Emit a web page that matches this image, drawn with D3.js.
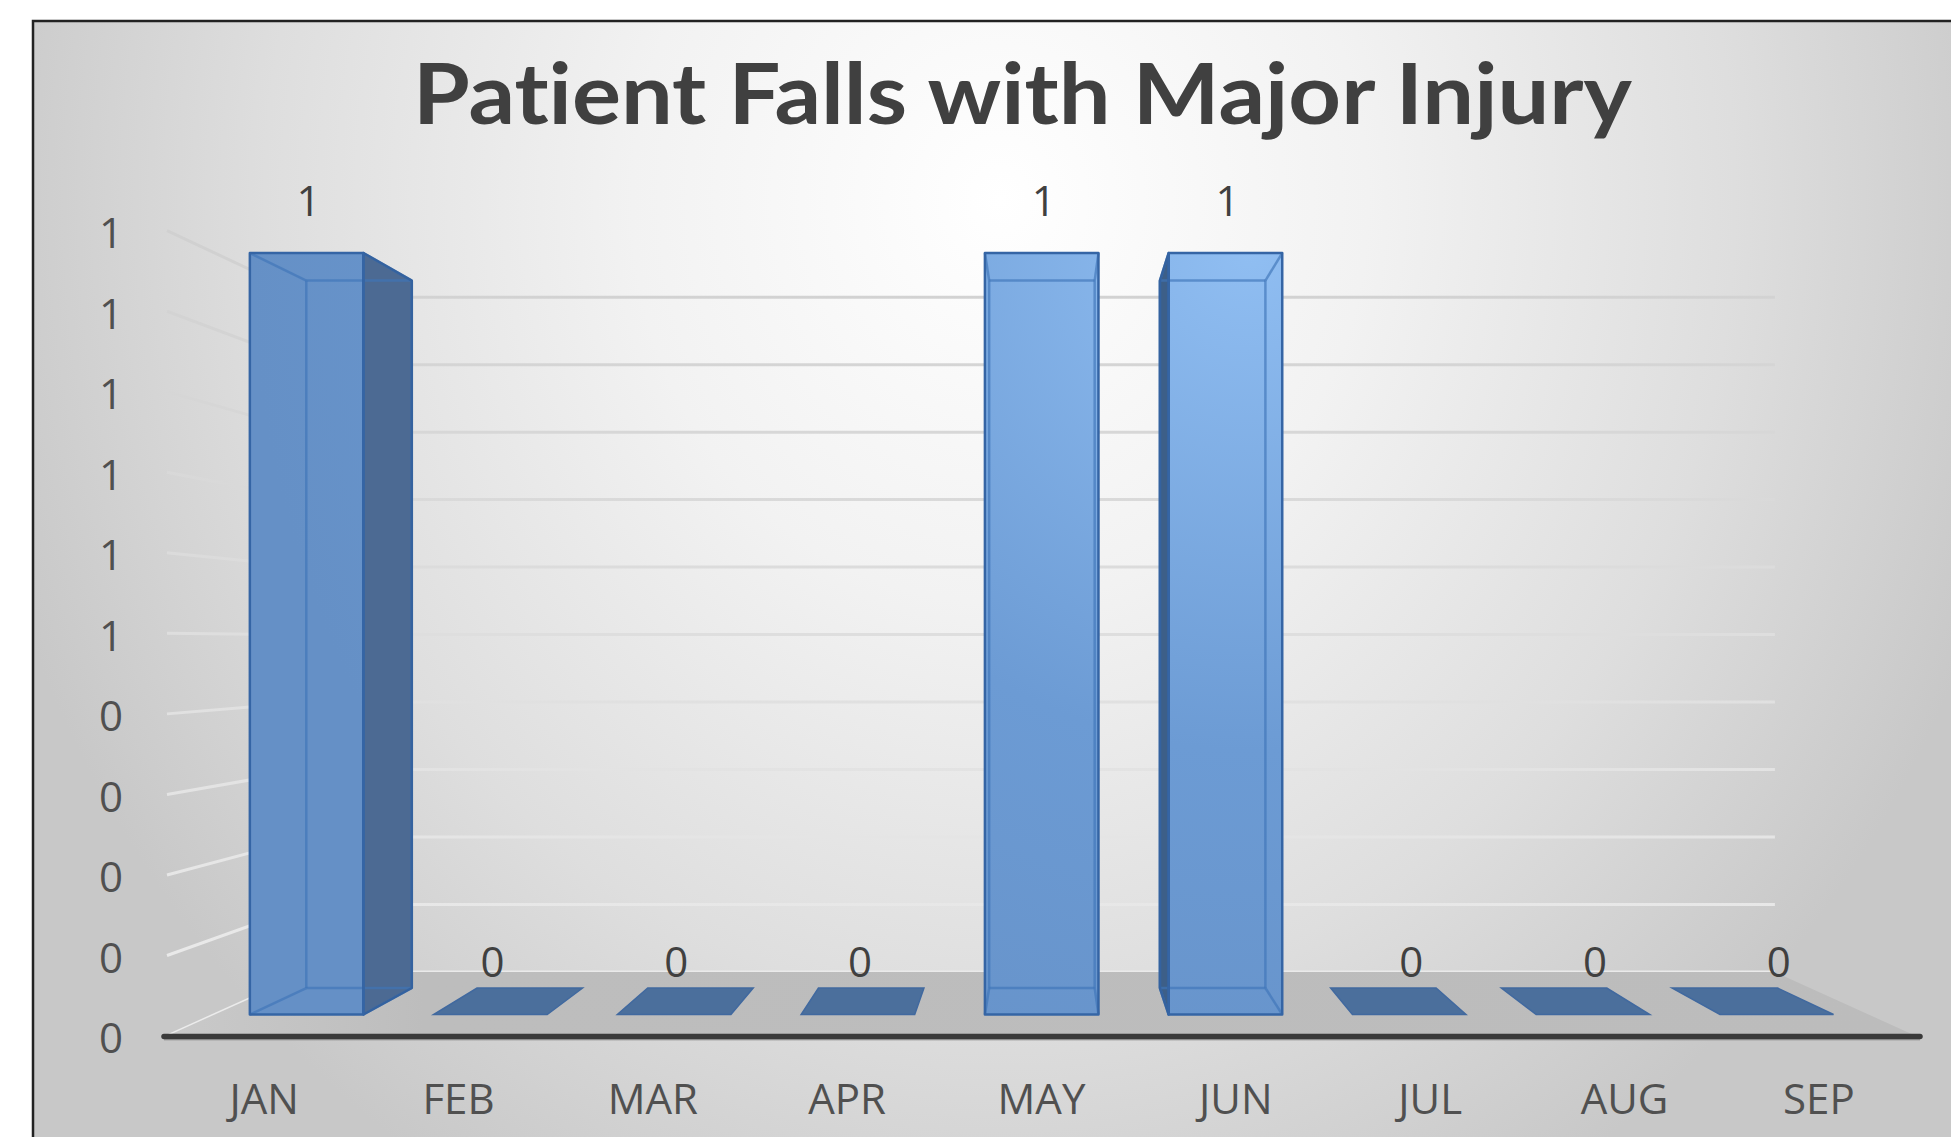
<!DOCTYPE html>
<html><head><meta charset="utf-8">
<script src="https://cdn.jsdelivr.net/npm/d3@7"></script>
<style>html,body{margin:0;padding:0;background:#fff;overflow:hidden} text{font-variant-ligatures:none;font-feature-settings:"liga" 0,"clig" 0;}</style>
</head><body><svg id="chart" width="1951" height="1137"></svg>
<script>
const chartTitle = "Patient Falls with Major Injury";
const months = ["JAN","FEB","MAR","APR","MAY","JUN","JUL","AUG","SEP"];
const falls = [1,0,0,0,1,1,0,0,0];
const dataLabels = ["1","0","0","0","1","1","0","0","0"];
const yTickValues = [0,0.1,0.2,0.3,0.4,0.5,0.6,0.7,0.8,0.9,1];
const yTickLabels = ["0","0","0","0","0","1","1","1","1","1","1"];

const W = 1951, H = 1137;
const svg = d3.select("#chart");
const defs = svg.append("defs");

function addStops(g, stops){ stops.forEach(s => g.append("stop").attr("offset", s[0]).attr("stop-color", s[1])); }

const bg = defs.append("radialGradient").attr("id","bg").attr("gradientUnits","userSpaceOnUse")
  .attr("cx",1000).attr("cy",200).attr("r",1050)
  .attr("gradientTransform","translate(1000,200) scale(1,1.095) translate(-1000,-200)");
addStops(bg, [[0,"#ffffff"],[0.35,"#f2f2f2"],[0.7,"#dedede"],[1,"#c8c8c8"]]);

const gridGrad = defs.append("linearGradient").attr("id","gridGrad").attr("gradientUnits","userSpaceOnUse")
  .attr("x1",0).attr("y1",230).attr("x2",0).attr("y2",1036);
addStops(gridGrad, [[0,"#d0d0d0"],[1,"#ececec"]]);

const floorGrad = defs.append("linearGradient").attr("id","floorGrad").attr("gradientUnits","userSpaceOnUse")
  .attr("x1",160).attr("y1",0).attr("x2",1920).attr("y2",0);
addStops(floorGrad, [[0,"#cacaca"],[0.15,"#bdbdbd"],[1,"#bcbcbc"]]);

const barGrad = defs.append("radialGradient").attr("id","barGrad").attr("gradientUnits","userSpaceOnUse")
  .attr("cx",1250).attr("cy",250).attr("r",1000);
addStops(barGrad, [[0,"#90bef2"],[0.5,"#6c9bd4"],[1,"#6590c6"]]);

// frame
svg.append("rect").attr("x",33).attr("y",21).attr("width",W).attr("height",H)
  .attr("fill","url(#bg)").attr("stroke","#222").attr("stroke-width",2.5);

// scales (front plane)
const x = d3.scaleBand().domain(months).range([167,1916]);
const xBar = d3.scaleBand().domain(months).range([167,1916]).paddingInner(0.382).paddingOuter(0.191);
const y = d3.scaleLinear().domain([0,1]).range([1036,230.7]);

// perspective projection
const VP = [1045,641], DEPTH = 0.1933, zFront = 0.2975, zBack = 0.7155;
function P(px, py, z){ const s = 1/(1+z*DEPTH); return [VP[0]+(px-VP[0])*s, VP[1]+(py-VP[1])*s]; }
const line = d3.line();
const x0 = x.range()[0], x1 = x.range()[1];

// gridlines: back wall and side wall
const grid = svg.append("g");
yTickValues.forEach(v => {
  grid.append("path").attr("d", line([P(x0,y(v),1), P(x1,y(v),1)]))
    .attr("stroke","url(#gridGrad)").attr("stroke-width",3).attr("fill","none");
  grid.append("path").attr("d", line([P(x0,y(v),0), P(x0,y(v),1)]))
    .attr("stroke","url(#gridGrad)").attr("stroke-width",3).attr("fill","none");
});

// floor
svg.append("path").attr("d", line([P(x0,y(0),0),P(x1,y(0),0),P(x1,y(0),1),P(x0,y(0),1)])+"Z")
  .attr("fill","url(#floorGrad)");
svg.append("line").attr("x1",x0-3).attr("x2",x1+4).attr("y1",y(0)+3).attr("y2",y(0)+3)
  .attr("stroke","#8a8a8a").attr("stroke-width",3).attr("opacity",0.6);
svg.append("line").attr("x1",x0-3).attr("x2",x1+4).attr("y1",y(0)+0.5).attr("y2",y(0)+0.5)
  .attr("stroke","#3a3a3a").attr("stroke-width",5.5).attr("stroke-linecap","round");

// bars
const bars = svg.append("g");
months.forEach((m,i) => {
  const v = falls[i];
  const xl = xBar(m), xr = xl + xBar.bandwidth();
  const yt = y(v), yb = y(0);
  if (v === 0) {
    bars.append("path").attr("d", line([P(xl,yb,zFront),P(xr,yb,zFront),P(xr,yb,zBack),P(xl,yb,zBack)])+"Z")
      .attr("fill","#4b6f9c").attr("stroke","#41699f").attr("stroke-width",1.5);
    return;
  }
  const FTL=P(xl,yt,zFront), FTR=P(xr,yt,zFront), FBR=P(xr,yb,zFront), FBL=P(xl,yb,zFront);
  const BTL=P(xl,yt,zBack), BTR=P(xr,yt,zBack), BBR=P(xr,yb,zBack), BBL=P(xl,yb,zBack);
  const g = bars.append("g");
  let side = null, sideFill = null;
  if (xr < VP[0]) { side = [FTR,BTR,BBR,FBR]; sideFill = "#4c6a93"; }
  else if (xl > VP[0]) { side = [FTL,BTL,BBL,FBL]; sideFill = "#3d5f88"; }
  if (side) g.append("path").attr("d", line(side)+"Z").attr("fill",sideFill);
  g.append("path").attr("d", line([FTL,FTR,FBR,FBL])+"Z").attr("fill","url(#barGrad)");
  // hidden edges seen through the translucent box
  const edges = [[BTL,BTR],[BTR,BBR],[BBR,BBL],[BBL,BTL],[FTL,BTL],[FTR,BTR],[FBL,BBL],[FBR,BBR]];
  edges.forEach(e => g.append("path").attr("d", line(e))
    .attr("stroke","#3f74b8").attr("stroke-width",2.5).attr("opacity",0.65).attr("fill","none"));
  if (side) g.append("path").attr("d", line(side)+"Z").attr("fill","none")
    .attr("stroke","#34629f").attr("stroke-width",2.5).attr("stroke-linejoin","round");
  g.append("path").attr("d", line([FTL,FTR,FBR,FBL])+"Z").attr("fill","none")
    .attr("stroke","#3565a5").attr("stroke-width",2.5).attr("stroke-linejoin","round");
});

// data labels
const labelFont = "'Open Sans', 'DejaVu Sans', sans-serif";
svg.append("g").selectAll("text").data(months).join("text")
  .attr("x", (m,i) => P(x(m)+x.bandwidth()/2, y(falls[i]), zFront)[0] + 2)
  .attr("y", (m,i) => P(x(m)+x.bandwidth()/2, y(falls[i]), zFront)[1] - 37.5)
  .attr("text-anchor","middle").attr("font-family",labelFont).attr("font-size",42)
  .attr("fill","#404040").text((m,i) => dataLabels[i]);

// y axis (front plane)
const yAxis = svg.append("g").attr("transform","translate(123,0)")
  .call(d3.axisLeft(y).tickValues(yTickValues).tickFormat((d,i) => yTickLabels[i]).tickSize(0).tickPadding(0));
yAxis.select(".domain").remove();
yAxis.selectAll("text").attr("dy","0.4em").attr("font-family",labelFont).attr("font-size",42).attr("fill","#505050");

// x axis
const xAxis = svg.append("g").attr("transform","translate(0,1114)")
  .call(d3.axisBottom(x).tickSize(0).tickPadding(0));
xAxis.select(".domain").remove();
xAxis.selectAll("text").attr("y",0).attr("dy",0).attr("font-family",labelFont).attr("font-size",42).attr("fill","#505050");

// title
svg.append("text").attr("x",413).attr("y",124)
  .attr("font-family","Lato, 'Open Sans', sans-serif").attr("font-weight",700).attr("font-size",84)
  .attr("textLength",1219).attr("lengthAdjust","spacingAndGlyphs")
  .style("font-variant-ligatures","none")
  .attr("fill","#404040").text(chartTitle);
</script></body></html>
